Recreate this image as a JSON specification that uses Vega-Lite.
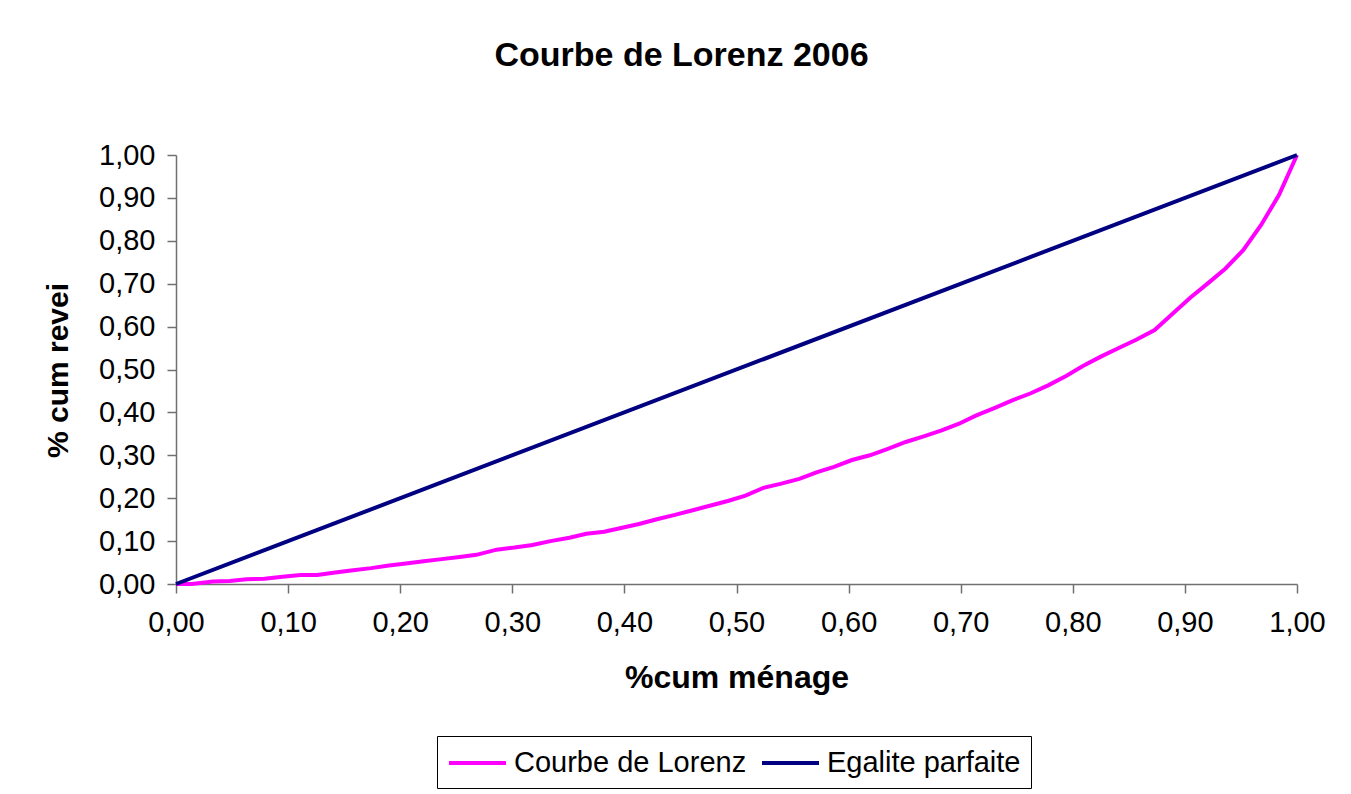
{
  "$schema": "https://vega.github.io/schema/vega-lite/v6.json",
  "width": 1121,
  "height": 429,
  "autosize": {"type": "none"},
  "padding": {"left": 176, "top": 155, "right": 54, "bottom": 210},
  "background": "white",
  "config": {
    "font": "Liberation Sans",
    "view": {"stroke": null}
  },
  "title": {
    "text": "Courbe de Lorenz 2006",
    "font": "Liberation Sans",
    "fontSize": 34,
    "fontWeight": "bold",
    "color": "black",
    "anchor": "middle",
    "frame": "group",
    "baseline": "alphabetic",
    "offset": 41,
    "dx": -55
  },
  "data": {
    "values": [
      {"x": 0.0, "y": 0.0, "serie": "Courbe de Lorenz"},
      {"x": 0.014, "y": 0.0, "serie": "Courbe de Lorenz"},
      {"x": 0.033, "y": 0.006, "serie": "Courbe de Lorenz"},
      {"x": 0.048, "y": 0.007, "serie": "Courbe de Lorenz"},
      {"x": 0.063, "y": 0.011, "serie": "Courbe de Lorenz"},
      {"x": 0.079, "y": 0.012, "serie": "Courbe de Lorenz"},
      {"x": 0.095, "y": 0.017, "serie": "Courbe de Lorenz"},
      {"x": 0.111, "y": 0.021, "serie": "Courbe de Lorenz"},
      {"x": 0.126, "y": 0.021, "serie": "Courbe de Lorenz"},
      {"x": 0.142, "y": 0.027, "serie": "Courbe de Lorenz"},
      {"x": 0.158, "y": 0.032, "serie": "Courbe de Lorenz"},
      {"x": 0.174, "y": 0.037, "serie": "Courbe de Lorenz"},
      {"x": 0.19, "y": 0.043, "serie": "Courbe de Lorenz"},
      {"x": 0.205, "y": 0.048, "serie": "Courbe de Lorenz"},
      {"x": 0.221, "y": 0.053, "serie": "Courbe de Lorenz"},
      {"x": 0.237, "y": 0.058, "serie": "Courbe de Lorenz"},
      {"x": 0.253, "y": 0.063, "serie": "Courbe de Lorenz"},
      {"x": 0.268, "y": 0.068, "serie": "Courbe de Lorenz"},
      {"x": 0.286, "y": 0.08, "serie": "Courbe de Lorenz"},
      {"x": 0.302, "y": 0.085, "serie": "Courbe de Lorenz"},
      {"x": 0.318, "y": 0.091, "serie": "Courbe de Lorenz"},
      {"x": 0.334, "y": 0.1, "serie": "Courbe de Lorenz"},
      {"x": 0.351, "y": 0.108, "serie": "Courbe de Lorenz"},
      {"x": 0.366, "y": 0.117, "serie": "Courbe de Lorenz"},
      {"x": 0.382, "y": 0.122, "serie": "Courbe de Lorenz"},
      {"x": 0.398, "y": 0.131, "serie": "Courbe de Lorenz"},
      {"x": 0.413, "y": 0.14, "serie": "Courbe de Lorenz"},
      {"x": 0.429, "y": 0.151, "serie": "Courbe de Lorenz"},
      {"x": 0.445, "y": 0.161, "serie": "Courbe de Lorenz"},
      {"x": 0.461, "y": 0.172, "serie": "Courbe de Lorenz"},
      {"x": 0.477, "y": 0.183, "serie": "Courbe de Lorenz"},
      {"x": 0.493, "y": 0.194, "serie": "Courbe de Lorenz"},
      {"x": 0.508, "y": 0.206, "serie": "Courbe de Lorenz"},
      {"x": 0.524, "y": 0.224, "serie": "Courbe de Lorenz"},
      {"x": 0.54, "y": 0.234, "serie": "Courbe de Lorenz"},
      {"x": 0.556, "y": 0.245, "serie": "Courbe de Lorenz"},
      {"x": 0.572, "y": 0.261, "serie": "Courbe de Lorenz"},
      {"x": 0.587, "y": 0.273, "serie": "Courbe de Lorenz"},
      {"x": 0.603, "y": 0.289, "serie": "Courbe de Lorenz"},
      {"x": 0.619, "y": 0.3, "serie": "Courbe de Lorenz"},
      {"x": 0.635, "y": 0.315, "serie": "Courbe de Lorenz"},
      {"x": 0.651, "y": 0.331, "serie": "Courbe de Lorenz"},
      {"x": 0.667, "y": 0.344, "serie": "Courbe de Lorenz"},
      {"x": 0.683, "y": 0.358, "serie": "Courbe de Lorenz"},
      {"x": 0.698, "y": 0.373, "serie": "Courbe de Lorenz"},
      {"x": 0.714, "y": 0.393, "serie": "Courbe de Lorenz"},
      {"x": 0.73, "y": 0.41, "serie": "Courbe de Lorenz"},
      {"x": 0.746, "y": 0.428, "serie": "Courbe de Lorenz"},
      {"x": 0.762, "y": 0.444, "serie": "Courbe de Lorenz"},
      {"x": 0.778, "y": 0.463, "serie": "Courbe de Lorenz"},
      {"x": 0.794, "y": 0.485, "serie": "Courbe de Lorenz"},
      {"x": 0.809, "y": 0.508, "serie": "Courbe de Lorenz"},
      {"x": 0.825, "y": 0.53, "serie": "Courbe de Lorenz"},
      {"x": 0.841, "y": 0.55, "serie": "Courbe de Lorenz"},
      {"x": 0.857, "y": 0.57, "serie": "Courbe de Lorenz"},
      {"x": 0.873, "y": 0.592, "serie": "Courbe de Lorenz"},
      {"x": 0.889, "y": 0.63, "serie": "Courbe de Lorenz"},
      {"x": 0.905, "y": 0.668, "serie": "Courbe de Lorenz"},
      {"x": 0.921, "y": 0.702, "serie": "Courbe de Lorenz"},
      {"x": 0.936, "y": 0.735, "serie": "Courbe de Lorenz"},
      {"x": 0.952, "y": 0.778, "serie": "Courbe de Lorenz"},
      {"x": 0.968, "y": 0.837, "serie": "Courbe de Lorenz"},
      {"x": 0.984, "y": 0.907, "serie": "Courbe de Lorenz"},
      {"x": 1.0, "y": 1.0, "serie": "Courbe de Lorenz"},
      {"x": 0.0, "y": 0.0, "serie": "Egalite parfaite"},
      {"x": 1.0, "y": 1.0, "serie": "Egalite parfaite"}
    ]
  },
  "mark": {"type": "line", "strokeWidth": 4, "clip": false},
  "encoding": {
    "x": {
      "field": "x",
      "type": "quantitative",
      "scale": {"domain": [0, 1], "nice": false, "zero": true},
      "axis": {
        "title": "%cum ménage",
        "titleFont": "Liberation Sans",
        "titleFontSize": 32,
        "titleFontWeight": "bold",
        "titleColor": "black",
        "titleBaseline": "middle",
        "titleY": 93,
        "values": [0, 0.1, 0.2, 0.3, 0.4, 0.5, 0.6, 0.7, 0.8, 0.9, 1],
        "format": ".2f",
        "labelExpr": "replace(datum.label, '.', ',')",
        "labelFontSize": 29,
        "labelColor": "black",
        "labelPadding": 15,
        "labelFlush": false,
        "labelOverlap": false,
        "tickSize": 9,
        "tickColor": "#707070",
        "tickWidth": 1.5,
        "domainColor": "#707070",
        "domainWidth": 1.5,
        "grid": false
      }
    },
    "y": {
      "field": "y",
      "type": "quantitative",
      "scale": {"domain": [0, 1], "nice": false, "zero": true},
      "axis": {
        "title": "% cum revei",
        "titleFont": "Liberation Sans",
        "titleFontSize": 30,
        "titleFontWeight": "bold",
        "titleColor": "black",
        "titleBaseline": "middle",
        "titleX": -118,
        "titleY": 215,
        "values": [0, 0.1, 0.2, 0.3, 0.4, 0.5, 0.6, 0.7, 0.8, 0.9, 1],
        "format": ".2f",
        "labelExpr": "replace(datum.label, '.', ',')",
        "labelFontSize": 29,
        "labelColor": "black",
        "labelPadding": 12,
        "labelFlush": false,
        "labelOverlap": false,
        "tickSize": 9,
        "tickColor": "#707070",
        "tickWidth": 1.5,
        "domainColor": "#707070",
        "domainWidth": 1.5,
        "grid": false
      }
    },
    "color": {
      "field": "serie",
      "type": "nominal",
      "scale": {"domain": ["Courbe de Lorenz", "Egalite parfaite"], "range": ["#FF00FF", "#000080"]},
      "legend": {
        "title": null,
        "orient": "none",
        "legendX": 261,
        "legendY": 581,
        "direction": "horizontal",
        "strokeColor": "black",
        "padding": 10,
        "symbolType": "M-1,0H2.8",
        "symbolStrokeWidth": 4,
        "symbolSize": 900,
        "labelFontSize": 29,
        "labelLimit": 500,
        "labelColor": "black",
        "labelOffset": 33,
        "columnPadding": 7
      }
    }
  }
}
